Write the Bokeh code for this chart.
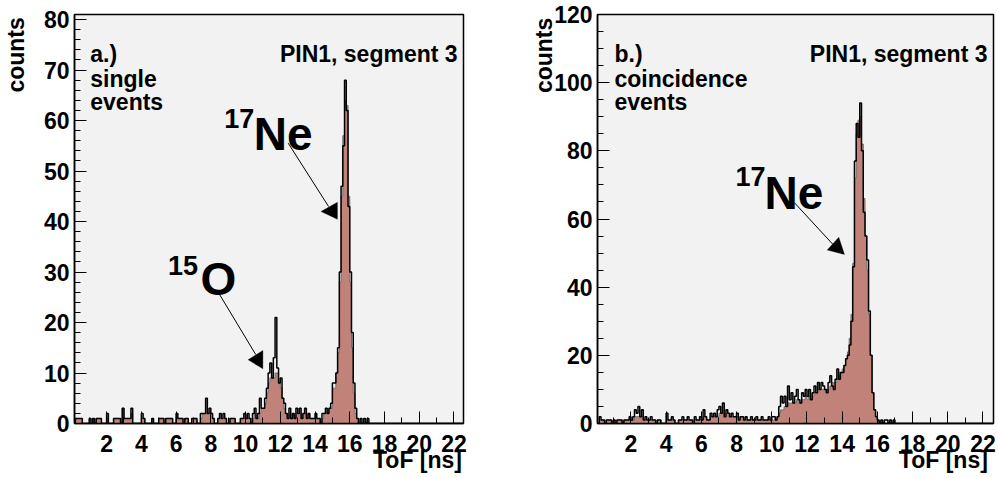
import numpy as np
from bokeh.plotting import figure
from bokeh.layouts import row
from bokeh.models import Label, FixedTicker, Arrow, PolyAnnotation, Range1d, LinearAxis
from bokeh.embed import file_html
from bokeh.resources import INLINE

# ---------------- data ----------------
BIN_WIDTH = 0.1          # ns, bins start at 0 ns
# single events (panel a) : thin black histogram and smoother filled histogram
single_line = [
    0, 0, 1, 1, 1, 1, 0, 0, 0, 0,
    1, 0, 1, 0, 1, 1, 1, 0, 0, 0,
    2, 0, 0, 0, 1, 1, 1, 1, 0, 3,
    1, 1, 1, 1, 3, 0, 0, 0, 0, 0,
    2, 1, 0, 0, 0, 0, 1, 0, 0, 0,
    1, 1, 1, 0, 1, 1, 1, 1, 0, 0,
    2, 1, 1, 1, 0, 1, 1, 0, 0, 1,
    1, 1, 0, 0, 2, 2, 2, 5, 2, 3,
    2, 1, 0, 0, 1, 2, 1, 2, 1, 0,
    0, 1, 1, 1, 0, 0, 0, 1, 1, 2,
    1, 2, 1, 0, 2, 3, 1, 2, 5, 3,
    3, 5, 7, 10, 12, 9, 13, 21, 11, 8,
    9, 5, 4, 2, 1, 3, 1, 2, 1, 3,
    2, 3, 1, 2, 3, 1, 2, 1, 1, 1,
    2, 1, 1, 0, 2, 2, 3, 2, 3, 4,
    8, 8, 10, 15, 30, 47, 55, 68, 62, 43,
    30, 18, 8, 3, 1, 0, 1, 0, 1, 0,
    1, 0, 0, 0, 0, 0, 0, 0, 0, 0,
    0, 0, 0, 0, 0, 0, 0, 0, 0, 0,
    0, 0, 0, 0, 0, 0, 0, 0, 0, 0,
    0, 0, 0, 0, 0, 0, 0, 0, 0, 0,
    0, 0, 0, 0, 0, 0, 0, 0, 0, 0,
    0, 0, 0, 0, 0, 0, 0, 0, 0, 0,
]
single_fill = [
    0, 0, 1, 1, 1, 1, 0, 0, 0, 0,
    1, 0, 1, 0, 1, 1, 1, 0, 0, 0,
    1, 0, 0, 0, 1, 1, 1, 1, 0, 3,
    1, 1, 1, 1, 2, 0, 0, 0, 0, 0,
    1, 1, 0, 0, 0, 0, 1, 0, 0, 0,
    1, 1, 1, 0, 1, 1, 1, 1, 0, 0,
    1, 1, 1, 1, 0, 1, 1, 0, 0, 1,
    1, 1, 0, 0, 1, 2, 2, 2, 2, 2,
    2, 1, 0, 0, 1, 1, 1, 1, 1, 0,
    0, 1, 1, 1, 0, 0, 0, 1, 1, 1,
    1, 1, 1, 0, 1, 2, 1, 1, 2, 3,
    3, 4, 6, 8, 9, 9, 9, 10, 10, 8,
    7, 5, 3, 2, 1, 2, 1, 2, 1, 2,
    2, 2, 1, 2, 2, 1, 2, 1, 1, 1,
    1, 1, 1, 0, 1, 2, 2, 2, 3, 3,
    7, 7, 10, 14, 28, 45, 57, 64, 63, 45,
    28, 15, 6, 2, 1, 0, 0, 0, 0, 0,
    0, 0, 0, 0, 0, 0, 0, 0, 0, 0,
    0, 0, 0, 0, 0, 0, 0, 0, 0, 0,
    0, 0, 0, 0, 0, 0, 0, 0, 0, 0,
    0, 0, 0, 0, 0, 0, 0, 0, 0, 0,
    0, 0, 0, 0, 0, 0, 0, 0, 0, 0,
    0, 0, 0, 0, 0, 0, 0, 0, 0, 0,
]
# coincidence events (panel b)
coinc_line = [
    0, 0, 2, 1, 1, 0, 1, 1, 1, 0,
    1, 0, 1, 1, 1, 0, 1, 1, 1, 2,
    1, 2, 4, 3, 5, 2, 4, 1, 2, 1,
    1, 2, 1, 1, 0, 1, 1, 0, 0, 0,
    3, 1, 1, 2, 1, 0, 0, 1, 1, 2,
    1, 1, 2, 1, 1, 0, 2, 1, 1, 2,
    1, 4, 2, 1, 1, 3, 2, 3, 2, 4,
    5, 3, 6, 2, 4, 3, 2, 3, 2, 2,
    3, 1, 2, 2, 1, 2, 1, 1, 2, 1,
    1, 2, 1, 1, 2, 1, 1, 1, 2, 1,
    2, 2, 1, 2, 5, 8, 6, 8, 5, 11,
    7, 9, 6, 8, 10, 7, 6, 9, 8, 10,
    8, 10, 7, 9, 11, 9, 12, 10, 12, 11,
    10, 9, 12, 14, 11, 10, 13, 16, 13, 15,
    15, 17, 19, 20, 23, 30, 46, 77, 88, 84,
    94, 80, 62, 55, 48, 33, 20, 9, 4, 2,
    1, 0, 1, 0, 1, 1, 0, 1, 0, 1,
    0, 0, 0, 0, 0, 0, 0, 0, 0, 0,
    0, 0, 0, 0, 0, 0, 0, 0, 0, 0,
    0, 0, 0, 0, 0, 0, 0, 0, 0, 0,
    0, 0, 0, 0, 0, 0, 0, 0, 0, 0,
    0, 0, 0, 0, 0, 0, 0, 0, 0, 0,
    0, 0, 0, 0, 0, 0, 0, 0, 0, 0,
]
coinc_fill = [
    0, 0, 1, 1, 1, 0, 1, 1, 1, 0,
    1, 0, 1, 1, 1, 0, 1, 1, 1, 1,
    1, 1, 2, 2, 2, 2, 2, 1, 1, 1,
    1, 1, 1, 1, 0, 1, 1, 0, 0, 0,
    1, 1, 1, 1, 1, 0, 0, 1, 1, 1,
    1, 1, 1, 1, 1, 0, 1, 1, 1, 1,
    1, 2, 2, 1, 1, 2, 2, 2, 2, 2,
    3, 3, 3, 2, 3, 3, 2, 2, 2, 2,
    2, 1, 2, 2, 1, 1, 1, 1, 1, 1,
    1, 1, 1, 1, 1, 1, 1, 1, 1, 1,
    1, 1, 1, 2, 3, 4, 4, 5, 5, 6,
    6, 6, 6, 6, 7, 6, 6, 7, 7, 8,
    7, 8, 7, 8, 9, 9, 10, 10, 10, 10,
    10, 10, 10, 11, 12, 12, 12, 13, 14, 15,
    16, 17, 19, 21, 25, 32, 47, 72, 85, 89,
    90, 82, 66, 55, 45, 32, 20, 9, 4, 2,
    1, 0, 0, 0, 0, 0, 0, 0, 0, 0,
    0, 0, 0, 0, 0, 0, 0, 0, 0, 0,
    0, 0, 0, 0, 0, 0, 0, 0, 0, 0,
    0, 0, 0, 0, 0, 0, 0, 0, 0, 0,
    0, 0, 0, 0, 0, 0, 0, 0, 0, 0,
    0, 0, 0, 0, 0, 0, 0, 0, 0, 0,
    0, 0, 0, 0, 0, 0, 0, 0, 0, 0,
]

x_major = [2, 4, 6, 8, 10, 12, 14, 16, 18, 20, 22]
x_minor = list(range(1, 23))
single_y_major = [0, 10, 20, 30, 40, 50, 60, 70, 80]
single_y_minor = list(range(0, 82, 2))
coinc_y_major = [0, 20, 40, 60, 80, 100, 120]
coinc_y_minor = list(range(0, 121, 5))

X_TITLE = "ToF [ns]"
Y_TITLE = "counts"

# ---------------- style ----------------
FONT = "Liberation Sans"
FILL = "#c1827a"
FRAME_BG = "#f2f2f2"
H = 478
FRAME_TOP, FRAME_BOTTOM = 14, 423


def title_axis(text, at, standoff, vertical=False):
    """An invisible axis whose single tick label carries an axis title
    (ROOT places the titles at the far end of each axis)."""
    ax = LinearAxis(ticker=FixedTicker(ticks=[at], minor_ticks=[]),
                    major_label_overrides={at: text},
                    axis_line_alpha=0, major_tick_line_alpha=0, minor_tick_line_alpha=0,
                    major_tick_in=0, major_tick_out=0, minor_tick_in=0, minor_tick_out=0,
                    major_label_standoff=standoff)
    ax.major_label_text_font = FONT
    ax.major_label_text_font_style = "bold"
    ax.major_label_text_font_size = "23px"
    ax.major_label_text_color = "black"
    if vertical:
        ax.major_label_orientation = "vertical"
    return ax


def make_panel(line_vals, fill_vals, xr, yr, ymaj, ymin, width, bl, br):
    p = figure(width=width, height=H, x_range=Range1d(*xr), y_range=Range1d(*yr),
               output_backend="svg", toolbar_location=None,
               min_border_left=bl, min_border_right=br,
               min_border_top=FRAME_TOP, min_border_bottom=H - FRAME_BOTTOM,
               background_fill_color=FRAME_BG, border_fill_color="white")
    p.grid.visible = False
    p.outline_line_color = "black"
    p.outline_line_width = 1.5

    n = len(line_vals)
    edges = np.round(np.arange(n + 1) * BIN_WIDTH, 3)
    # filled histogram as one step polygon
    px = np.concatenate([[edges[0]], np.repeat(edges, 2)[1:-1], [edges[-1]]])
    py = np.concatenate([[0], np.repeat(np.asarray(fill_vals, float), 2), [0]])
    p.patch(px, py, fill_color=FILL, line_color="#707070", line_width=1)
    p.step(x=edges, y=list(line_vals) + [0], mode="after",
           line_color="black", line_width=1.5)

    for ax, maj, mn in ((p.xaxis[0], x_major, x_minor), (p.yaxis[0], ymaj, ymin)):
        ax.ticker = FixedTicker(ticks=maj, minor_ticks=mn)
        ax.major_tick_in = 12
        ax.major_tick_out = 0
        ax.minor_tick_in = 6
        ax.minor_tick_out = 0
        ax.major_tick_line_color = "black"
        ax.minor_tick_line_color = "black"
        ax.axis_line_width = 1.5
        ax.major_label_text_font = FONT
        ax.major_label_text_font_style = "bold"
        ax.major_label_text_font_size = "23px"
        ax.major_label_text_color = "black"
    p.xaxis.major_label_standoff = 11
    p.yaxis.major_label_standoff = 5

    fw = width - bl - br
    fh = FRAME_BOTTOM - FRAME_TOP

    def dx(pxl):
        return xr[0] + (pxl - bl) / fw * (xr[1] - xr[0])

    def dy(pyl):
        return yr[0] + (FRAME_BOTTOM - pyl) / fh * (yr[1] - yr[0])

    return p, dx, dy


def text(p, dx, dy, px, py, s, size, align="left"):
    p.add_layout(Label(x=dx(px), y=dy(py), text=s, text_font=FONT,
                       text_font_style="bold", text_font_size=f"{size}px",
                       text_color="black", text_align=align,
                       text_baseline="alphabetic"))


def arrow(p, dx, dy, start, end, head):
    p.add_layout(Arrow(end=None, x_start=dx(start[0]), y_start=dy(start[1]),
                       x_end=dx(end[0]), y_end=dy(end[1]),
                       line_color="black", line_width=1))
    p.add_layout(PolyAnnotation(xs=[dx(h[0]) for h in head], ys=[dy(h[1]) for h in head],
                                fill_color="black", fill_alpha=1.0,
                                line_color="black", line_width=1))


# ---------------- panel a ----------------
W1 = 499
p1, dx1, dy1 = make_panel(single_line, single_fill, (0.15, 22.55), (0, 81),
                          single_y_major, single_y_minor, W1, 68, 36)
p1.add_layout(title_axis(X_TITLE, 19.9, -8), "below")
p1.add_layout(title_axis(Y_TITLE, 73, 11, vertical=True), "left")
text(p1, dx1, dy1, 84, 53.5, "a.)", 23)
text(p1, dx1, dy1, 84, 78, "single", 23)
text(p1, dx1, dy1, 84, 101.5, "events", 23)
text(p1, dx1, dy1, 457, 53.5, "PIN1, segment 3", 23, align="right")
text(p1, dx1, dy1, 220, 118, "17", 27)
text(p1, dx1, dy1, 250, 133, "Ne", 46)
text(p1, dx1, dy1, 163, 265, "15", 27)
text(p1, dx1, dy1, 196, 278, "O", 46)
arrow(p1, dx1, dy1, (285, 142.7), (326, 206), [(318.3, 211), (335, 201.7), (335, 218.8)])
arrow(p1, dx1, dy1, (213.3, 290.7), (252, 354), [(244.3, 359.3), (259.3, 350), (259.3, 368.3)])

# ---------------- panel b ----------------
W2 = 998 - W1
OFF = W1
p2, dx2_, dy2 = make_panel(coinc_line, coinc_fill, (0.1, 22.6), (0, 120),
                           coinc_y_major, coinc_y_minor, W2, 98, 5)


def dx2(px):
    return dx2_(px - OFF)


p2.add_layout(title_axis(X_TITLE, 19.75, -8), "below")
p2.add_layout(title_axis(Y_TITLE, 108, -6, vertical=True), "left")
text(p2, dx2, dy2, 614, 53.5, "b.)", 23)
text(p2, dx2, dy2, 614, 78, "coincidence", 23)
text(p2, dx2, dy2, 614, 101.5, "events", 23)
text(p2, dx2, dy2, 987, 53.5, "PIN1, segment 3", 23, align="right")
text(p2, dx2, dy2, 735, 176, "17", 27)
text(p2, dx2, dy2, 764, 192, "Ne", 46)
arrow(p2, dx2, dy2, (794, 202.3), (835, 246.7), [(826.7, 249.5), (838.3, 236.7), (844, 254)])

layout = row(p1, p2)
open("out.html", "w").write(file_html(layout, INLINE))
